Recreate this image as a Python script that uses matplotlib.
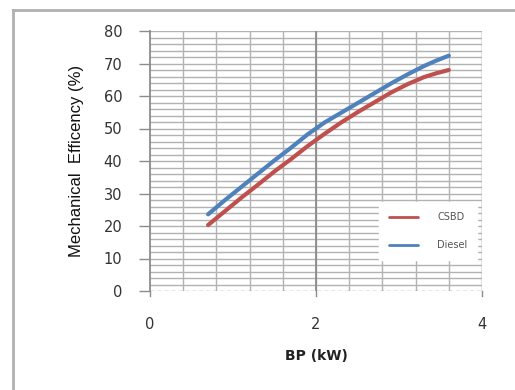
import numpy as np
import matplotlib
matplotlib.use('Agg')
from matplotlib import pyplot as plt
from matplotlib.lines import Line2D

plt.rcParams['font.family'] = ['DejaVu Sans']

# values
bp = [0.7, 0.9, 1.1, 1.3, 1.5, 1.7, 1.9, 2.1, 2.3, 2.5, 2.7, 2.9, 3.1, 3.3, 3.45, 3.6]
csbd = [20.3, 24.5, 28.7, 32.7, 36.8, 40.6, 44.6, 48.3, 51.8, 55.0, 58.0, 61.0, 63.6, 65.8, 67.0, 68.0]
diesel = [23.6, 27.9, 32.0, 36.1, 40.2, 44.1, 48.2, 51.8, 54.8, 57.8, 60.8, 63.8, 66.6, 69.2, 70.9, 72.4]
yticks = [0, 10, 20, 30, 40, 50, 60, 70, 80]
xticks = [0, 2, 4]

fig = plt.figure(figsize=(5.15, 3.9), dpi=100)
W, H = 515.0, 390.0
ax = fig.add_axes([150/W, 1-291/H, 332/W, 260/H])

gc = '#b2b2b2'
# grid
for yy in np.arange(2, 81, 2):
    ax.axhline(yy, color=gc, lw=1, zorder=0)
for xx in np.arange(0.4, 4.01, 0.4):
    ax.axvline(xx, color=gc, lw=1, zorder=0)
ax.axvline(2, color='#8c8c8c', lw=1.3, zorder=0)
ax.axhline(0, color='#8c8c8c', lw=1, ls=(0, (3, 2)), zorder=1)

ax.plot(bp, csbd, color='#c0504d', lw=3, solid_capstyle='round', label='CSBD', zorder=3)
ax.plot(bp, diesel, color='#4f81bd', lw=3, solid_capstyle='round', label='Diesel', zorder=3)

ax.set_xlim(0, 4)
ax.set_ylim(0, 80)
ax.set_xticks(xticks)
ax.set_yticks(yticks)
for s in ['top', 'right', 'bottom']:
    ax.spines[s].set_visible(False)
ax.spines['left'].set_color('#8c8c8c')
ax.spines['left'].set_linewidth(1.3)
ax.tick_params(axis='y', length=8, width=1, color='#8c8c8c', labelsize=10.5, pad=12, labelcolor='#333333')
ax.tick_params(axis='x', length=0, labelsize=10.5, pad=19, labelcolor='#333333')
# small x ticks through the bottom
for xx in xticks:
    ax.plot([xx, xx], [-1.5, 0], color='#8c8c8c', lw=1, clip_on=False)
ax.plot([4, 4], [0, 80], color=gc, lw=1)

ax.set_xlabel('BP (kW)', fontsize=10, fontweight='bold', labelpad=12, color='#222222')
ax.set_ylabel('Mechanical  Efficency (%)', fontsize=12, labelpad=14,
              family='Liberation Sans', color='#111111')

leg = ax.legend(loc='lower right', bbox_to_anchor=(1.0, 0.1), frameon=True, fontsize=7,
                handlelength=3.0, labelspacing=1.9, borderpad=1.0, handletextpad=2.0,
                fancybox=False, edgecolor='white', framealpha=1)
for t in leg.get_texts():
    t.set_color('#555555')
for l in leg.get_lines():
    l.set_linewidth(2)

# chart frame
fig.add_artist(Line2D([13/W, 13/W], [0, 1-10/H], color='#b0b0b0', lw=2))
fig.add_artist(Line2D([13/W, 1], [1-10/H, 1-10/H], color='#b0b0b0', lw=2))

fig.savefig('out.png', dpi=100)
